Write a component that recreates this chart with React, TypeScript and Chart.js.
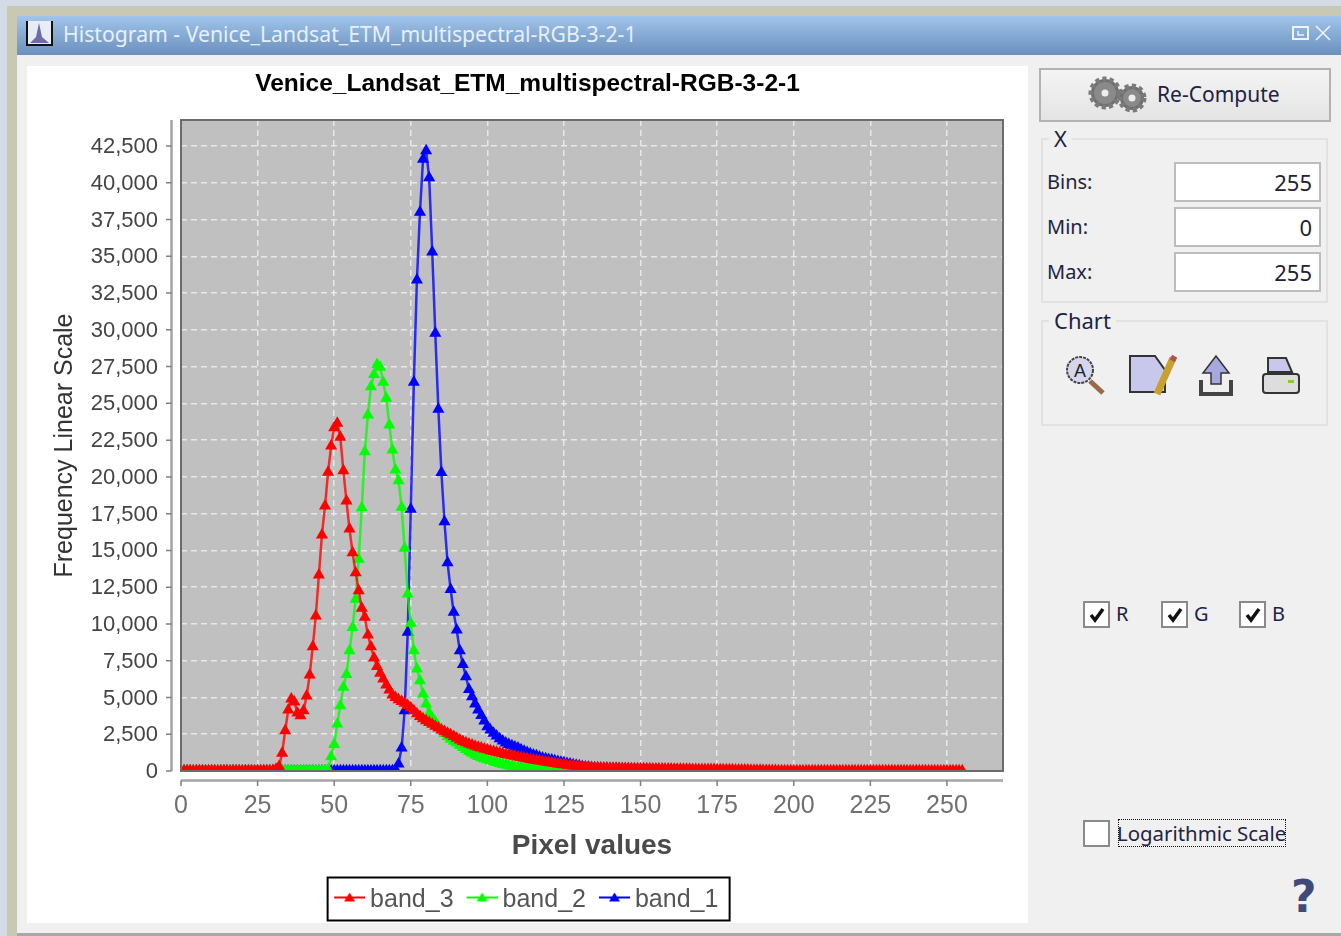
import React, { useEffect, useRef } from "react";
import { Chart, registerables } from "chart.js";

Chart.register(...registerables);

const chartTitle = "Venice_Landsat_ETM_multispectral-RGB-3-2-1";
const xTitle = "Pixel values";
const yTitle = "Frequency Linear Scale";

const band3Values = [
  0, 10, 20, 10, 0, 10, 20, 10, 0, 10,
  20, 10, 0, 10, 20, 10, 0, 10, 20, 10,
  0, 10, 20, 10, 0, 10, 20, 10, 10, 20,
  30, 120, 300, 1200, 2740, 4150, 4900, 4700, 3950, 3750,
  4100, 5100, 6530, 8450, 10540, 13330, 16050, 18020, 20310, 22100,
  23350, 23640, 22690, 20420, 18360, 16450, 14850, 13480, 12260, 11060,
  10450, 9250, 8450, 7680, 7100, 6650, 6250, 5850, 5500, 5170,
  5000, 4850, 4720, 4600, 4450, 4300, 4100, 3900, 3700, 3550,
  3420, 3300, 3180, 3050, 2920, 2790, 2680, 2570, 2460, 2340,
  2220, 2100, 2010, 1920, 1840, 1760, 1690, 1620, 1560, 1500,
  1440, 1380, 1330, 1280, 1230, 1180, 1130, 1090, 1040, 1000,
  950, 910, 870, 830, 790, 750, 710, 680, 640, 610,
  580, 540, 510, 480, 450, 420, 390, 360, 340, 320,
  300, 280, 260, 250, 230, 225, 215, 210, 205, 200,
  190, 185, 180, 175, 170, 170, 165, 160, 160, 155,
  150, 150, 145, 145, 140, 140, 135, 135, 130, 130,
  130, 125, 125, 120, 120, 115, 115, 110, 110, 105,
  105, 100, 100, 95, 95, 90, 90, 85, 85, 80,
  80, 75, 70, 70, 65, 60, 55, 50, 50, 45,
  40, 40, 35, 30, 30, 25, 25, 20, 20, 20,
  10, 10, 10, 10, 20, 10, 10, 10, 10, 10,
  10, 10, 10, 20, 10, 10, 10, 10, 10, 10,
  10, 10, 10, 10, 10, 20, 10, 10, 10, 10,
  10, 10, 10, 10, 10, 10, 10, 10, 20, 10,
  10, 10, 10, 10, 10, 10, 10, 10, 10, 10,
  10, 10, 10, 10, 10, 10,
];

const band2Values = [
  0, 0, 0, 0, 0, 0, 0, 0, 0, 0,
  0, 0, 0, 0, 0, 0, 0, 0, 0, 0,
  0, 0, 0, 0, 0, 0, 0, 0, 0, 0,
  0, 0, 0, 10, 10, 10, 10, 10, 10, 10,
  10, 10, 10, 10, 10, 10, 10, 10, 100, 970,
  1810, 3200, 4440, 5690, 6570, 8180, 9750, 11680, 14400, 17910,
  21710, 24210, 26130, 26970, 27650, 27450, 26430, 25340, 23530, 21830,
  20470, 19740, 17930, 15140, 12040, 10040, 8180, 6940, 6140, 5240,
  4560, 3920, 3600, 3350, 3050, 2800, 2550, 2350, 2180, 2030,
  1900, 1750, 1600, 1470, 1330, 1200, 1090, 990, 900, 830,
  760, 690, 630, 570, 510, 450, 400, 360, 320, 290,
  260, 230, 200, 180, 160, 140, 120, 100, 90, 70,
  60, 50, 40, 30, 30, 20, 20, 20, 20, 10,
];

const band1Values = [
  0, 0, 0, 0, 0, 0, 0, 0, 0, 0,
  0, 0, 0, 0, 0, 0, 0, 0, 0, 0,
  0, 0, 0, 0, 0, 0, 0, 0, 0, 0,
  0, 0, 0, 0, 0, 0, 0, 0, 0, 0,
  0, 0, 0, 0, 0, 0, 0, 0, 0, 0,
  10, 10, 10, 10, 10, 10, 10, 10, 10, 10,
  10, 10, 10, 10, 10, 10, 10, 10, 10, 20,
  100, 480, 1560, 4100, 9430, 17800, 26430, 33390, 38000, 41600,
  42180, 40350, 35300, 29760, 24600, 20300, 16950, 14170, 12350, 10790,
  9590, 8180, 7250, 6410, 5550, 5050, 4550, 4150, 3780, 3400,
  3010, 2780, 2570, 2380, 2200, 2040, 1900, 1810, 1720, 1640,
  1560, 1450, 1350, 1260, 1170, 1090, 1030, 960, 890, 830,
  780, 750, 690, 640, 600, 560, 510, 470, 430, 390,
  350, 310, 280, 250, 220, 200, 190, 180, 170, 165,
  160, 155, 150, 145, 140, 135, 130, 130, 120, 120,
  110, 110, 100, 100, 90, 90, 80, 80, 70, 70,
  60, 60, 50, 50, 40, 40, 30, 30, 20, 20,
];

const seriesNames = ["band_3", "band_2", "band_1"];
const seriesColors = ["#ff0000", "#00ff00", "#0000ff"];
const seriesLineColors = ["rgba(255,0,0,0.78)", "rgba(0,255,0,0.78)", "rgba(0,0,255,0.78)"];
const seriesValues = [band3Values, band2Values, band1Values];

const xTicks = [0, 25, 50, 75, 100, 125, 150, 175, 200, 225, 250];
const yTicks = [
  0, 2500, 5000, 7500, 10000, 12500, 15000, 17500, 20000, 22500, 25000, 27500,
  30000, 32500, 35000, 37500, 40000, 42500,
];
const binFields = [
  ["Bins:", "255"],
  ["Min:", "0"],
  ["Max:", "255"],
];
const channelBoxes = ["R", "G", "B"];

const uiFont = '"Noto Sans", sans-serif';
const chartFont = '"Liberation Sans", Arial, sans-serif';

function legendMarker(color: string) {
  const c = document.createElement("canvas");
  c.width = 36;
  c.height = 16;
  const g = c.getContext("2d")!;
  g.strokeStyle = color;
  g.lineWidth = 2;
  g.beginPath();
  g.moveTo(5, 5);
  g.lineTo(36, 5);
  g.stroke();
  g.fillStyle = color;
  g.beginPath();
  g.moveTo(20.5, 0);
  g.lineTo(26, 9);
  g.lineTo(15, 9);
  g.closePath();
  g.fill();
  return c;
}

const frameAndAxes = {
  id: "frameAndAxes",
  beforeDraw(chart: any) {
    const { ctx, chartArea: a } = chart;
    ctx.save();
    ctx.fillStyle = "#c0c0c0";
    ctx.fillRect(a.left, a.top, a.right - a.left, a.bottom - a.top);
    ctx.restore();
  },
  afterDraw(chart: any) {
    const { ctx, chartArea: a, scales, legend } = chart;
    ctx.save();
    ctx.strokeStyle = "#6c6c6c";
    ctx.lineWidth = 2;
    ctx.strokeRect(a.left, a.top, a.right - a.left, a.bottom - a.top);
    ctx.strokeStyle = "#a4a4a4";
    ctx.lineWidth = 2.5;
    ctx.beginPath();
    ctx.moveTo(a.left - 9.5, a.top);
    ctx.lineTo(a.left - 9.5, a.bottom);
    ctx.moveTo(a.left, a.bottom + 9.5);
    ctx.lineTo(a.right, a.bottom + 9.5);
    ctx.stroke();
    ctx.strokeStyle = "#808080";
    ctx.lineWidth = 1.5;
    ctx.beginPath();
    scales.y.ticks.forEach((t: any) => {
      const p = scales.y.getPixelForValue(t.value);
      ctx.moveTo(a.left - 9.5, p);
      ctx.lineTo(a.left - 15, p);
    });
    scales.x.ticks.forEach((t: any) => {
      const p = scales.x.getPixelForValue(t.value);
      ctx.moveTo(p, a.bottom + 9.5);
      ctx.lineTo(p, a.bottom + 15);
    });
    ctx.stroke();
    const boxes = legend.legendHitBoxes;
    const first = boxes[0];
    ctx.strokeStyle = "#000000";
    ctx.lineWidth = 2;
    const boxTop = first.top + first.height / 2 - 23;
    ctx.strokeRect(first.left - 9, boxTop, 402, 43);
    ctx.restore();
  },
};

function ChartPane() {
  const ref = useRef<HTMLCanvasElement>(null);
  useEffect(() => {
    const chart = new Chart(ref.current!, {
      type: "line",
      data: {
        datasets: seriesNames.map((name, i) => ({
          label: name,
          data: seriesValues[i].map((y, x) => ({ x, y })),
          borderColor: seriesLineColors[i],
          backgroundColor: seriesColors[i],
          borderWidth: 2.5,
          pointStyle: "triangle",
          pointRadius: 7,
          pointBorderWidth: 0,
          pointBackgroundColor: seriesColors[i],
          tension: 0,
          fill: false,
          order: i,
        })),
      },
      options: {
        animation: false,
        responsive: false,
        layout: { padding: { left: 25, right: 25, top: 0, bottom: 0 } },
        scales: {
          x: {
            type: "linear",
            min: 0,
            max: 268.3,
            grid: { color: "rgba(238,238,238,0.85)", drawTicks: false, lineWidth: 1.5 },
            border: { display: false, dash: [6, 4] },
            afterBuildTicks(s: any) {
              s.ticks = xTicks.map((value) => ({ value }));
            },
            ticks: {
              padding: 20,
              maxRotation: 0,
              autoSkip: false,
              color: "#707070",
              font: { family: chartFont, size: 25 },
            },
            title: {
              display: true,
              text: xTitle,
              color: "#4a4a4a",
              padding: { top: 10, bottom: 9 },
              font: { family: chartFont, size: 28, weight: "bold" },
            },
            afterFit(s: any) {
              s.height = 101.5;
            },
          },
          y: {
            type: "linear",
            min: 0,
            max: 44270,
            grid: { color: "rgba(238,238,238,0.85)", drawTicks: false, lineWidth: 1.5 },
            border: { display: false, dash: [6, 4] },
            afterBuildTicks(s: any) {
              s.ticks = yTicks.map((value) => ({ value }));
            },
            ticks: {
              padding: 23,
              autoSkip: false,
              color: "#444444",
              labelOffset: 1,
              font: { family: chartFont, size: 22 },
              callback: (v: any) => Number(v).toLocaleString("en-US"),
            },
            title: {
              display: true,
              text: yTitle,
              color: "#333333",
              padding: { top: 0, bottom: 0 },
              font: { family: chartFont, size: 25, lineHeight: 1.05 },
            },
            afterFit(s: any) {
              s.width = 129;
            },
          },
        },
        plugins: {
          title: {
            display: true,
            text: chartTitle,
            color: "#000000",
            padding: { top: 4, bottom: 20.6 },
            font: { family: chartFont, size: 24.5, weight: "bold" },
          },
          legend: {
            position: "bottom",
            labels: {
              usePointStyle: true,
              pointStyleWidth: 21,
              padding: 15.5,
              color: "#555555",
              font: { family: chartFont, size: 25 },
              generateLabels: () =>
                seriesNames.map((name, i) => ({
                  text: name,
                  pointStyle: legendMarker(seriesColors[i]),
                  fontColor: "#555555",
                  lineWidth: 0,
                  strokeStyle: "transparent",
                  fillStyle: seriesColors[i],
                  datasetIndex: i,
                })),
            },
          },
          tooltip: { enabled: false },
        },
      } as any,
      plugins: [frameAndAxes],
    } as any);
    return () => chart.destroy();
  }, []);
  return (
    <div style={{ position: "absolute", left: 27, top: 66, width: 1001, height: 857, background: "#ffffff" }}>
      <canvas ref={ref} width={1001} height={857} style={{ display: "block" }} />
    </div>
  );
}

const abs = (l: number, t: number, w: number, h: number): React.CSSProperties => ({
  position: "absolute",
  left: l,
  top: t,
  width: w,
  height: h,
});

function Text(props: { x: number; y: number; size: number; color?: string; children: React.ReactNode; bold?: boolean }) {
  return (
    <div
      style={{
        position: "absolute",
        left: props.x,
        top: props.y,
        fontFamily: uiFont,
        fontSize: props.size,
        lineHeight: "30px",
        color: props.color || "#222244",
        fontWeight: props.bold ? 700 : 400,
        whiteSpace: "nowrap",
      }}
    >
      {props.children}
    </div>
  );
}

function Group(props: { x: number; y: number; w: number; h: number; label: string; labelX: number }) {
  return (
    <>
      <div style={{ ...abs(props.x, props.y, props.w, props.h), border: "2px solid #e2e2e2", boxSizing: "border-box" }} />
      <div
        style={{
          position: "absolute",
          left: props.labelX - 4,
          top: props.y - 15,
          padding: "0 5px",
          background: "#f0f0f0",
          fontFamily: uiFont,
          fontSize: 22,
          lineHeight: "30px",
          color: "#222244",
        }}
      >
        {props.label}
      </div>
    </>
  );
}

function CheckBox(props: { x: number; y: number; checked: boolean }) {
  return (
    <svg style={{ position: "absolute", left: props.x, top: props.y }} width={28} height={28} viewBox="0 0 28 28">
      <rect x={1} y={1} width={25} height={25} fill="#ffffff" stroke="#8a8a8a" strokeWidth={2} />
      {props.checked && <path d="M8 14 L12 19 L20 8" fill="none" stroke="#111111" strokeWidth={3.5} />}
    </svg>
  );
}

function Gear(props: { x: number; y: number; r: number }) {
  return (
    <g>
      <circle cx={props.x} cy={props.y} r={props.r} fill="#6f6f6f" stroke="#7a7a7a" strokeWidth={5} strokeDasharray="4 3" />
      <circle cx={props.x} cy={props.y} r={props.r - 3} fill="#8a8a8a" />
      <circle cx={props.x} cy={props.y} r={3.5} fill="#eeeeee" />
    </g>
  );
}

function SidePanel() {
  return (
    <>
      <div
        style={{
          ...abs(1039, 68, 292, 54),
          boxSizing: "border-box",
          border: "2px solid #b2b2b2",
          background: "linear-gradient(#f4f4f4,#e4e4e4)",
        }}
      />
      <svg style={{ position: "absolute", left: 1085, top: 70 }} width={70} height={48}>
        <Gear x={20} y={23} r={14} />
        <Gear x={47} y={28} r={12} />
      </svg>
      <Text x={1157} y={79} size={21}>Re-Compute</Text>

      <Group x={1041} y={138} w={287} h={165} label="X" labelX={1053} />
      {binFields.map(([label, value], i) => (
        <React.Fragment key={label}>
          <Text x={1047} y={167 + i * 45} size={20}>{label}</Text>
          <div
            style={{
              ...abs(1174, 162 + i * 45, 147, 40),
              boxSizing: "border-box",
              border: "2px solid #bdbdbd",
              background: "#ffffff",
              textAlign: "right",
              padding: "0 7px",
              fontFamily: uiFont,
              fontSize: 22,
              lineHeight: "36px",
              color: "#222233",
            }}
          >
            {value}
          </div>
        </React.Fragment>
      ))}

      <Group x={1041} y={320} w={287} h={106} label="Chart" labelX={1053} />
      <svg style={{ position: "absolute", left: 1060, top: 350 }} width={250} height={52}>
        <circle cx={20} cy={20} r={13} fill="#d5d5ee" stroke="#444444" strokeWidth={2} strokeDasharray="3 1" />
        <text x={20} y={27} textAnchor="middle" fontFamily={chartFont} fontSize={18} fill="#222222">A</text>
        <path d="M30 31 L43 43" stroke="#9a6a48" strokeWidth={5} />
        <path d="M70 6 L95 6 L105 20 L105 42 L70 42 Z" fill="#c8c8ec" stroke="#333333" strokeWidth={2} />
        <path d="M113 8 L97 44" stroke="#c8a030" strokeWidth={7} />
        <path d="M111 7 L116 10" stroke="#b05050" strokeWidth={5} />
        <path d="M156 6 L169 23 L161 23 L161 34 L151 34 L151 23 L143 23 Z" fill="#a8a8e0" stroke="#333333" strokeWidth={1.5} />
        <path d="M141 30 L141 44 L171 44 L171 30" fill="none" stroke="#444444" strokeWidth={4} />
        <path d="M208 8 L226 8 L232 22 L208 22 Z" fill="#c8c8ec" stroke="#333333" strokeWidth={2} />
        <rect x={203} y={24} width={36} height={19} rx={3} fill="#dddddd" stroke="#333333" strokeWidth={2} />
        <rect x={228} y={30} width={6} height={3} fill="#88cc22" />
      </svg>

      {channelBoxes.map((name, i) => (
        <React.Fragment key={name}>
          <CheckBox x={1083 + i * 78} y={601} checked={true} />
          <Text x={1116 + i * 78} y={599} size={20}>{name}</Text>
        </React.Fragment>
      ))}
      <CheckBox x={1083} y={820} checked={false} />
      <div style={{ ...abs(1118, 819, 168, 28), border: "1px dotted #111111", boxSizing: "border-box" }} />
      <Text x={1117} y={818} size={20.4}>Logarithmic Scale</Text>
      <div
        style={{
          position: "absolute",
          left: 1291,
          top: 872,
          fontFamily: '"DejaVu Sans", sans-serif',
          fontWeight: 700,
          fontSize: 44,
          lineHeight: "50px",
          color: "#3f4a78",
        }}
      >
        ?
      </div>
    </>
  );
}

export default function App() {
  return (
    <div style={{ position: "fixed", left: 0, top: 0, width: 1341, height: 936, overflow: "hidden", background: "#d3dce6" }}>
      <div style={{ filter: "blur(0.6px)", ...abs(0, 0, 1341, 936) }}>
        <div style={{ ...abs(7, 6, 1334, 930), background: "#c8c8b4" }} />
        <div style={{ ...abs(17, 16, 1324, 917), background: "#f0f0f0" }} />
        <div style={{ ...abs(17, 933, 1324, 3), background: "#a8a8a8" }} />
        <div style={{ ...abs(17, 16, 1324, 39), background: "linear-gradient(#a0c4ea,#6b90bd)" }} />
        <svg style={{ position: "absolute", left: 25, top: 19 }} width={30} height={30}>
          <path d="M2 2 L2 26 L27 26 L27 2" fill="#e8ecf4" stroke="#111111" strokeWidth={2} />
          <path d="M5 24 L11 18 L14 4 L17 18 L24 24 Z" fill="#6f6aa8" />
        </svg>
        <Text x={63} y={19} size={21.2} color="#e6f0fb">Histogram - Venice_Landsat_ETM_multispectral-RGB-3-2-1</Text>
        <svg style={{ position: "absolute", left: 1290, top: 24 }} width={46} height={20}>
          <rect x={3} y={3} width={15} height={12} fill="none" stroke="#f0f4fa" strokeWidth={2} />
          <path d="M8 7 L8 11 L14 11" fill="none" stroke="#f0f4fa" strokeWidth={1.5} />
          <path d="M26 2 L40 16 M40 2 L26 16" stroke="#f0f4fa" strokeWidth={1.5} />
        </svg>
        <ChartPane />
        <SidePanel />
      </div>
    </div>
  );
}
